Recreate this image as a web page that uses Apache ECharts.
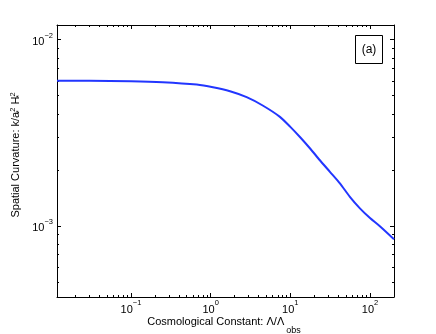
<!DOCTYPE html>
<html>
<head>
<meta charset="utf-8">
<title>spatial curvature</title>
<script src="https://cdn.jsdelivr.net/npm/echarts@6/dist/echarts.min.js"></script>
<style>
  html, body { margin: 0; padding: 0; background: #fff; }
  #main { width: 436px; height: 334px; }
</style>
</head>
<body>
<div id="main"></div>
<script type="text/javascript">
// curve (Lambda/Lambda_obs vs k/a*^2 H*^2)
var lambdaRatio = [0.0118, 0.03, 0.1, 0.25, 0.67, 1.07, 1.75, 2.83, 4.5, 7.4, 10, 13.2, 17.6, 23.5, 31.4, 41.9, 55.9, 74.7, 100, 133, 200];
var curvature   = [0.00602, 0.00601, 0.00598, 0.00591, 0.00574, 0.00555, 0.00528, 0.00491, 0.00443, 0.00385, 0.0034, 0.0030, 0.00261, 0.00225, 0.00195, 0.00169, 0.00143, 0.00124, 0.0011, 0.000994, 0.000846];

var xMajor = [0.1, 1, 10, 100];
var xMinor = [0.02, 0.03, 0.04, 0.05, 0.06, 0.07, 0.08, 0.09, 0.2, 0.3, 0.4, 0.5, 0.6, 0.7, 0.8, 0.9,
              2, 3, 4, 5, 6, 7, 8, 9, 20, 30, 40, 50, 60, 70, 80, 90];
var yMajor = [0.001, 0.01];
var yMinor = [0.0005, 0.0006, 0.0007, 0.0008, 0.0009, 0.002, 0.003, 0.004, 0.005, 0.006, 0.007, 0.008, 0.009];

var xMin = 0.0118, xMax = 200;
var yMin = 0.000414, yMax = 0.0120;

var font = '"Liberation Sans", Arial, sans-serif';

function powLabel(v) {
  var e = Math.round(Math.log10(v));
  return '{b|10}{s|' + (e < 0 ? '\u2212' + (-e) : e) + '}';
}
var labelRich = {
  b: { fontSize: 11, fontFamily: font, color: '#000', lineHeight: 16, verticalAlign: 'bottom' },
  s: { fontSize: 7.5, fontFamily: font, color: '#000', lineHeight: 8, verticalAlign: 'top' }
};

function makeAxis(kind, pos, ticks, len, withLine, withLabel) {
  var ax = {
    type: 'log',
    logBase: 10,
    position: pos,
    min: kind === 'x' ? xMin : yMin,
    max: kind === 'x' ? xMax : yMax,
    axisLine: { show: withLine, onZero: false, lineStyle: { color: '#000', width: 1 } },
    axisTick: { show: true, inside: true, length: len, customValues: ticks, lineStyle: { color: '#000', width: 1 } },
    axisLabel: { show: withLabel },
    splitLine: { show: false },
    minorTick: { show: false },
    minorSplitLine: { show: false }
  };
  if (withLabel) {
    ax.axisLabel = {
      show: true,
      customValues: ticks,
      formatter: powLabel,
      rich: labelRich,
      margin: kind === 'x' ? 2 : 4
    };
  }
  return ax;
}

var myChart = echarts.init(document.getElementById('main'), null, { renderer: 'canvas' });

var option = {
  animation: false,
  backgroundColor: '#fff',
  grid: { left: 57, right: 42, top: 25, bottom: 37, containLabel: false },
  xAxis: [
    makeAxis('x', 'bottom', xMajor, 4, true, true),
    makeAxis('x', 'bottom', xMinor, 2, false, false),
    makeAxis('x', 'top', xMajor, 4, true, false),
    makeAxis('x', 'top', xMinor, 2, false, false)
  ],
  yAxis: [
    makeAxis('y', 'left', yMajor, 4, true, true),
    makeAxis('y', 'left', yMinor, 2, false, false),
    makeAxis('y', 'right', yMajor, 4, true, false),
    makeAxis('y', 'right', yMinor, 2, false, false)
  ],
  series: [
    {
      type: 'line',
      xAxisIndex: 0,
      yAxisIndex: 0,
      data: lambdaRatio.map(function (x, i) { return [x, curvature[i]]; }),
      smooth: 0.25,
      showSymbol: false,
      lineStyle: { color: '#2236ff', width: 2 }
    }
  ],
  graphic: [
    {
      type: 'rect',
      shape: { x: 355.5, y: 35.5, width: 27, height: 28 },
      style: { fill: '#fff', stroke: '#000', lineWidth: 1 }
    },
    {
      type: 'text',
      x: 369, y: 49.5,
      style: { text: '(a)', font: '12px ' + font, fill: '#000', align: 'center', verticalAlign: 'middle' }
    },
    {
      type: 'text',
      x: 224, y: 324,
      style: {
        text: '{t|Cosmological Constant: \u039B/\u039B}{u|obs}',
        align: 'center', verticalAlign: 'middle',
        rich: {
          t: { fontSize: 11, fontFamily: font, fill: '#000', lineHeight: 16, verticalAlign: 'top' },
          u: { fontSize: 9, fontFamily: font, fill: '#000', lineHeight: 8, verticalAlign: 'bottom', padding: [0, 0, -3, 2] }
        }
      }
    },
    {
      type: 'text',
      x: 16, y: 155,
      rotation: Math.PI / 2,
      style: {
        text: '{t|Spatial Curvature: k/a}{d|*}{p|2}{t| H}{d|*}{p|2}',
        align: 'center', verticalAlign: 'middle',
        rich: {
          t: { fontSize: 11, fontFamily: font, fill: '#000', lineHeight: 14 },
          p: { fontSize: 7.5, fontFamily: font, fill: '#000', lineHeight: 8, verticalAlign: 'top', padding: [0, 0, 6, 0] },
          d: { fontSize: 7.5, fontFamily: font, fill: '#000', lineHeight: 8, width: 0.01, verticalAlign: 'bottom', padding: [4, 0, 0, 0] }
        }
      }
    }
  ]
};

myChart.setOption(option);
</script>
</body>
</html>
